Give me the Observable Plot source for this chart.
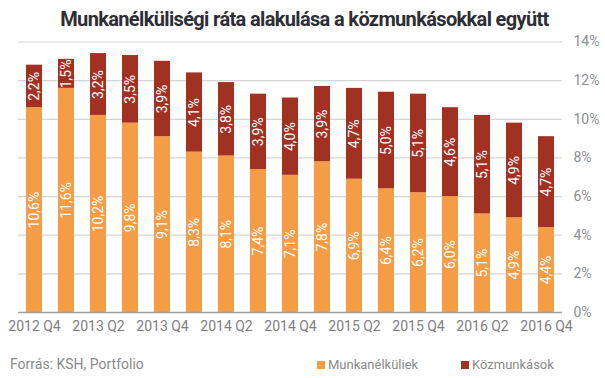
<!DOCTYPE html>
<html><head><meta charset="utf-8">
<script src="https://cdn.jsdelivr.net/npm/d3@7"></script>
<script src="https://cdn.jsdelivr.net/npm/@observablehq/plot@0.6"></script>
<style>
body{margin:0;background:#fff;font-family:Roboto,"Noto Sans",sans-serif;}
#wrap{position:relative;width:605px;height:378px;overflow:hidden;}
#title{height:32px;line-height:38px;text-align:center;font-weight:700;font-size:20px;letter-spacing:-0.65px;color:#2e2e36;padding-left:4px;}
#foot{position:relative;height:38px;}
#src{position:absolute;left:10px;top:16px;font-size:14px;color:#8a8a8a;}
.leg{position:absolute;top:17px;font-size:13px;color:#8a8a8a;}
.sw{display:inline-block;width:8px;height:8px;margin-right:3px;vertical-align:0px;}
</style></head>
<body><div id="wrap">
<div id="title">Munkanélküliségi ráta alakulása a közmunkásokkal együtt</div>
<div id="chart"></div>
<div id="foot"><div id="src">Forrás: KSH, Portfolio</div>
<div class="leg" style="left:317px"><span class="sw" style="background:#F59C47"></span>Munkanélküliek</div>
<div class="leg" style="left:461px"><span class="sw" style="background:#A33122"></span>Közmunkások</div>
</div>
</div>
<script>
const quarters = ["2012 Q4","2013 Q1","2013 Q2","2013 Q3","2013 Q4","2014 Q1","2014 Q2","2014 Q3","2014 Q4","2015 Q1","2015 Q2","2015 Q3","2015 Q4","2016 Q1","2016 Q2","2016 Q3","2016 Q4"];
const munkanelkuliek = [10.6,11.6,10.2,9.8,9.1,8.3,8.1,7.4,7.1,7.8,6.9,6.4,6.2,6.0,5.1,4.9,4.4];
const kozmunkasok = [2.2,1.5,3.2,3.5,3.9,4.1,3.8,3.9,4.0,3.9,4.7,5.0,5.1,4.6,5.1,4.9,4.7];
const seriesNames = ["Munkanélküliek","Közmunkások"];
const colors = ["#F59C47","#A33122"];
const yTicks = [0,2,4,6,8,10,12,14];
const xTicks = quarters.filter((d,i)=>i%2===0);

const data = [];
quarters.forEach((q,i)=>{
  data.push({q, series: seriesNames[0], value: munkanelkuliek[i]});
  data.push({q, series: seriesNames[1], value: kozmunkasok[i]});
});
const fmt = v => v.toFixed(1).replace(".", ",") + "%";

const chart = Plot.plot({
  width: 605, height: 308,
  marginTop: 9.5, marginBottom: 28, marginLeft: 18, marginRight: 43,
  style: {fontFamily: "Roboto, sans-serif", background: "transparent"},
  x: {type: "band", domain: quarters, paddingInner: 0.5, paddingOuter: 0.25, label: null},
  y: {domain: [0, 14], label: null},
  color: {domain: seriesNames, range: colors},
  marks: [
    Plot.ruleY(yTicks.filter(d=>d>0), {stroke: "#d4d4d4", strokeWidth: 1.2}),
    Plot.barY(data, {x: "q", y: "value", fill: "series", z: "series", order: seriesNames}),
    Plot.text(data, Plot.stackY({x: "q", y: "value", z: "series", order: seriesNames, text: d => fmt(d.value), rotate: -90, fill: "white", fontSize: 14})),
    Plot.ruleY([0], {stroke: "#a0a0a0", strokeWidth: 1.5}),
    Plot.axisX({ticks: xTicks, tickSize: 0, tickPadding: 9, fontSize: 14, fill: "#808080", label: null}),
    Plot.axisY({anchor: "right", ticks: yTicks, tickSize: 0, tickPadding: 11, tickFormat: d => d + "%", fontSize: 14, fill: "#8c8f96", label: null})
  ]
});
document.getElementById("chart").appendChild(chart);
</script>
</body></html>
